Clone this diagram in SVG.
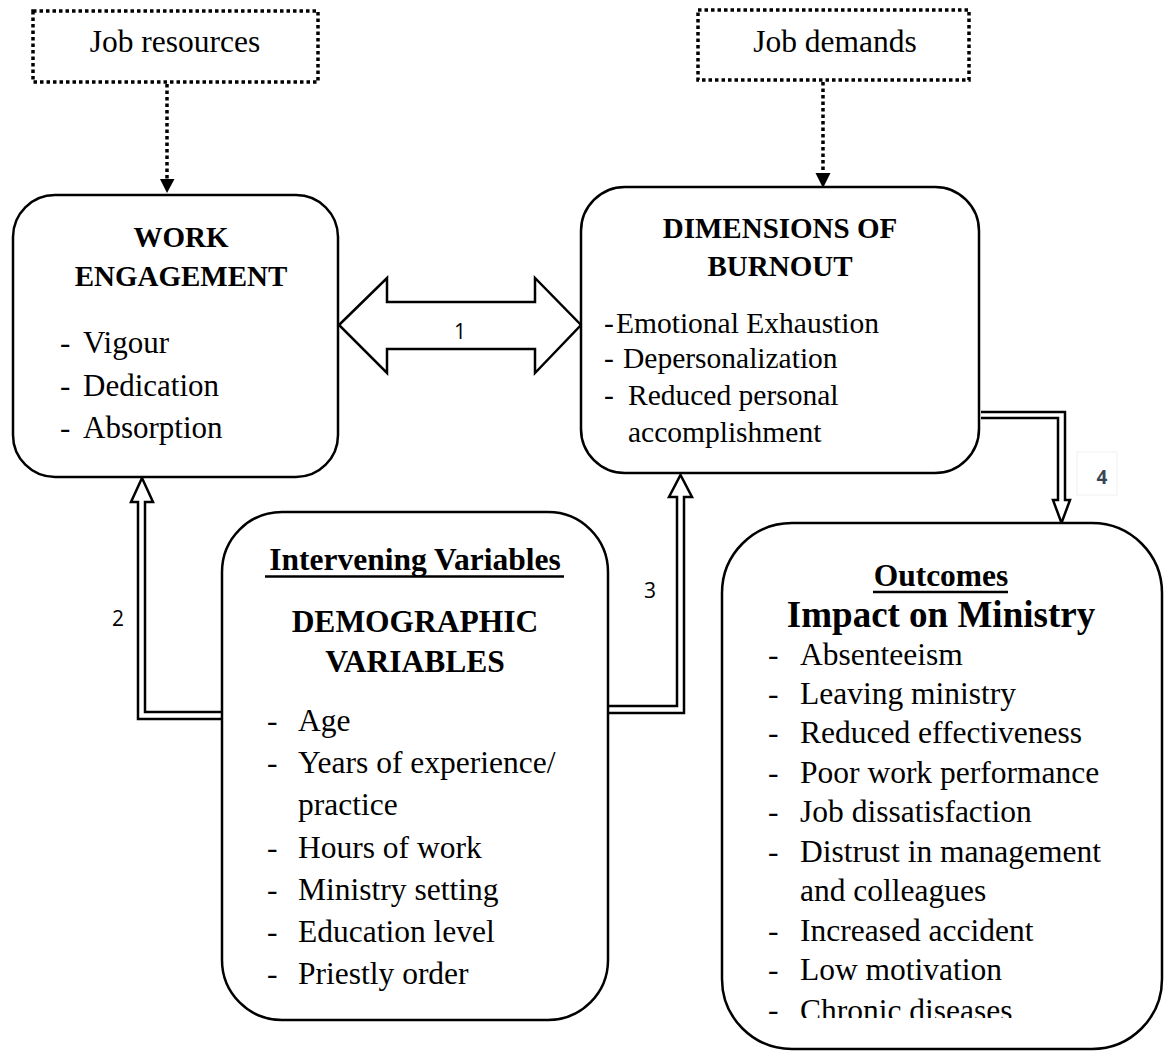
<svg xmlns="http://www.w3.org/2000/svg" width="1169" height="1052" viewBox="0 0 1169 1052">
<style>
  .box { fill: #ffffff; stroke: #000000; stroke-width: 2.5; }
  .dbox { fill: none; stroke: #000000; stroke-width: 3.5; stroke-dasharray: 3.5 3; }
  .dline { fill: none; stroke: #000000; stroke-width: 3.5; stroke-dasharray: 3.5 3; }
  .hollow { fill: #ffffff; stroke: #000000; stroke-width: 2.5; stroke-linejoin: miter; }
  .t { font-family: "Liberation Serif", "Times New Roman", serif; fill: #000000; }
  .reg { font-size: 31.5px; }
  .b { font-weight: bold; }
  .num { font-family: "Open Sans", "Noto Sans", "Liberation Sans", sans-serif; font-size: 21px; fill: #000000; }
  .ul { stroke: #000000; stroke-width: 2.5; }
</style>
<defs>
  <clipPath id="clipOut"><rect x="0" y="0" width="1169" height="1018"/></clipPath>
</defs>
<rect x="0" y="0" width="1169" height="1052" fill="#ffffff"/>

<g id="connectors">
  <line class="dline" x1="167" y1="84" x2="167" y2="180"/>
  <polygon points="160,179 174.5,179 167,193" fill="#000000"/>
  <line class="dline" x1="823" y1="82" x2="823" y2="174"/>
  <polygon points="815.5,173 830.5,173 823,188" fill="#000000"/>
  <polygon class="hollow" points="339,325 387,278 387,302 535,302 535,278 581,325 535,373 535,349 387,349 387,373"/>
  <path class="hollow" d="M222,712 L145,712 L145,502 L153,502 L142,478 L131,502 L138,502 L138,719 L222,719"/>
  <path class="hollow" d="M608,706 L677,706 L677,497 L669,497 L680.5,475 L692,497 L684,497 L684,713 L608,713"/>
  <path class="hollow" d="M981,412 L1065,412 L1065,500 L1070,500 L1061.5,523 L1053,500 L1058,500 L1058,418 L981,418"/>
  <text class="num" x="460" y="339" text-anchor="middle">1</text>
  <text class="num" x="118" y="626" text-anchor="middle">2</text>
  <text class="num" x="650" y="598" text-anchor="middle">3</text>
  <rect x="1077" y="452" width="40" height="43" fill="none" stroke="#f0f0f0" stroke-width="1"/>
  <text class="num" x="1102" y="484" text-anchor="middle" style="fill:#3a4656;font-weight:bold;font-size:19px">4</text>
</g>

<g id="job-resources">
  <rect class="dbox" x="33" y="11" width="285" height="71"/>
  <text class="t reg" x="175" y="52" text-anchor="middle">Job resources</text>
</g>

<g id="job-demands">
  <rect class="dbox" x="698" y="10" width="271" height="70"/>
  <text class="t reg" x="835" y="52" text-anchor="middle">Job demands</text>
</g>

<g id="work-engagement">
  <rect class="box" x="13" y="195" width="325" height="282" rx="42" ry="42"/>
  <text class="t b" x="181" y="247" text-anchor="middle" font-size="29">WORK</text>
  <text class="t b" x="181" y="286" text-anchor="middle" font-size="29">ENGAGEMENT</text>
  <g class="t" font-size="31">
    <text x="60" y="353">-</text><text x="83" y="353">Vigour</text>
    <text x="60" y="396">-</text><text x="83" y="396">Dedication</text>
    <text x="60" y="438">-</text><text x="83" y="438">Absorption</text>
  </g>
</g>

<g id="burnout">
  <rect class="box" x="581" y="187" width="398" height="286" rx="44" ry="44"/>
  <text class="t b" x="780" y="238" text-anchor="middle" font-size="29">DIMENSIONS OF</text>
  <text class="t b" x="780" y="276" text-anchor="middle" font-size="29">BURNOUT</text>
  <g class="t" font-size="29.5">
    <text x="604" y="333">-</text><text x="616" y="333">Emotional Exhaustion</text>
    <text x="604" y="368">-</text><text x="623" y="368">Depersonalization</text>
    <text x="604" y="405">-</text><text x="628" y="405">Reduced personal</text>
    <text x="628" y="442">accomplishment</text>
  </g>
</g>

<g id="intervening">
  <rect class="box" x="222" y="512" width="386" height="508" rx="60" ry="60"/>
  <text class="t b" x="415" y="570" text-anchor="middle" font-size="31.5">Intervening Variables</text>
  <line class="ul" x1="265" y1="576.5" x2="564" y2="576.5"/>
  <text class="t b" x="415" y="632" text-anchor="middle" font-size="31.5">DEMOGRAPHIC</text>
  <text class="t b" x="415" y="672" text-anchor="middle" font-size="31.5">VARIABLES</text>
  <g class="t reg">
    <text x="267" y="731">-</text><text x="298" y="731">Age</text>
    <text x="267" y="773">-</text><text x="298" y="773">Years of experience/</text>
    <text x="298" y="815">practice</text>
    <text x="267" y="858">-</text><text x="298" y="858">Hours of work</text>
    <text x="267" y="900">-</text><text x="298" y="900">Ministry setting</text>
    <text x="267" y="942">-</text><text x="298" y="942">Education level</text>
    <text x="267" y="984">-</text><text x="298" y="984">Priestly order</text>
  </g>
</g>

<g id="outcomes">
  <rect class="box" x="722" y="523" width="440" height="526" rx="70" ry="70"/>
  <text class="t b" x="941" y="586" text-anchor="middle" font-size="31.5">Outcomes</text>
  <line class="ul" x1="873" y1="592" x2="1008" y2="592"/>
  <text class="t b" x="941" y="627" text-anchor="middle" font-size="37">Impact on Ministry</text>
  <g class="t reg">
    <text x="768" y="665">-</text><text x="800" y="665">Absenteeism</text>
    <text x="768" y="704">-</text><text x="800" y="704">Leaving ministry</text>
    <text x="768" y="743">-</text><text x="800" y="743">Reduced effectiveness</text>
    <text x="768" y="783">-</text><text x="800" y="783">Poor work performance</text>
    <text x="768" y="822">-</text><text x="800" y="822">Job dissatisfaction</text>
    <text x="768" y="862">-</text><text x="800" y="862">Distrust in management</text>
    <text x="800" y="901">and colleagues</text>
    <text x="768" y="941">-</text><text x="800" y="941">Increased accident</text>
    <text x="768" y="980">-</text><text x="800" y="980">Low motivation</text>
    <text x="768" y="1020">-</text><text x="800" y="1021" clip-path="url(#clipOut)">Chronic diseases</text>
  </g>
</g>
</svg>
